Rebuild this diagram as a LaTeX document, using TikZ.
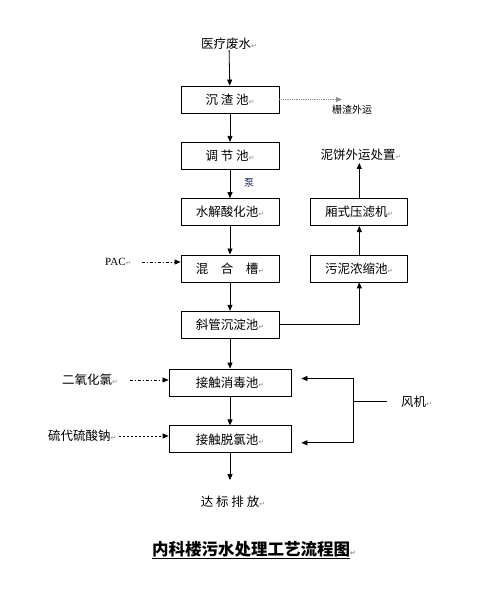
\documentclass[tikz,border=0pt]{standalone}
\usepackage{fontspec}
\setmainfont{Noto Sans CJK SC}
\newfontfamily\latinfont{Liberation Serif}
\newfontfamily\symfont{DejaVu Sans}
\usetikzlibrary{arrows.meta, positioning}
\definecolor{MarkGray}{RGB}{140,140,140}
\definecolor{PumpBlue}{RGB}{30,40,90}
\newcommand{\retmark}{{\symfont\color{MarkGray}\fontsize{7}{8}\selectfont ↵}}

\begin{document}
\begin{tikzpicture}[
    x=1pt, y=-1pt,
    node distance=28.5pt and 31pt,
    every node/.style={font=\fontsize{12.5}{14}\selectfont, inner sep=0pt},
    tank/.style={rectangle, draw, line width=0.8pt, minimum width=98pt, minimum height=27pt},
    widetank/.style={tank, minimum width=122pt},
    sidetank/.style={tank, minimum width=97pt},
    note/.style={font=\fontsize{10}{12}\selectfont},
    flow/.style={-{Triangle[length=6pt, width=5pt]}, line width=0.8pt},
    dotflow/.style={flow, densely dotted, draw=MarkGray},
    dashdotflow/.style={flow, dash pattern=on 3pt off 2pt on 1pt off 2pt},
    dashflow/.style={flow, dash pattern=on 2pt off 2pt}
  ]
    \useasboundingbox (0,0) rectangle (503,595);

    % Main line
    \node (src) at (229,44) {医疗废水\retmark};
    \node[tank] (czc) at (230,99.5) {沉\ 渣\ 池\retmark};
    \node[tank, below=of czc] (tjc) {调\ 节\ 池\retmark};
    \node[tank, below=of tjc] (sjc) {水解酸化池\retmark};
    \node[tank, below=of sjc] (hhc) {混\quad 合\quad 槽\retmark};
    \node[tank, below=of hhc] (xgc) {斜管沉淀池\retmark};
    \node[widetank, below=30pt of xgc] (xdc) {接触消毒池\retmark};
    \node[widetank, below=29pt of xdc] (tlc) {接触脱氯池\retmark};
    \node (out) at (233,502) {达\ 标\ 排\ 放\retmark};

    % Sludge line
    \node[sidetank, right=31pt of hhc] (nsc) {污泥浓缩池\retmark};
    \node[sidetank, above=of nsc] (ylj) {厢式压滤机\retmark};
    \node (nb) at (361,155) {泥饼外运处置\retmark};

    % Side labels
    \node[note, anchor=west] (zha) at (332,110) {栅渣外运};
    \coordinate (zhaend) at (342,99.5);
    \node[note, text=PumpBlue] (pump) at (249,183) {泵};
    \node[font=\latinfont\fontsize{11}{12}\selectfont, anchor=west] (pac) at (105,262) {PAC\retmark};
    \node[anchor=west] (clo) at (62,380) {二氧化氯\retmark};
    \node[anchor=west] (nas) at (48,436) {硫代硫酸钠\retmark};
    \node[anchor=west] (fan) at (401,401.5) {风机\retmark};
    \coordinate (fjb) at (353,401.5);

    % Connections
    \draw[flow] (src) -- (czc);
    \draw[flow] (czc) -- (tjc);
    \draw[flow] (tjc) -- (sjc);
    \draw[flow] (sjc) -- (hhc);
    \draw[flow] (hhc) -- (xgc);
    \draw[flow] (xgc.south) -- (xgc.south |- xdc.north);
    \draw[flow] (xdc) -- (tlc);
    \draw[flow, shorten >=16pt] (tlc.south) -- (tlc.south |- out.north);
    \draw[dotflow] (czc.east) -- (zhaend);
    \draw[flow] (xgc.east) -| (nsc.south);
    \draw[flow] (nsc) -- (ylj);
    \draw[flow, shorten >=2pt] (ylj.north) -- (ylj.north |- nb.south);
    \draw[dashdotflow, shorten <=10pt] (pac.east) -- (pac.east -| hhc.west);
    \draw[dashdotflow, shorten <=12pt] (clo.east) -- (clo.east -| xdc.west);
    \draw[dashflow, shorten <=2pt] (nas.east) -- (nas.east -| tlc.west);
    \draw[line width=0.8pt, shorten <=14pt] (fan.west) -- (fjb);
    \draw[flow, shorten >=10pt] (fjb) |- ([yshift=4pt]xdc.east);
    \draw[flow, shorten >=10pt] (fjb) |- ([yshift=-3.5pt]tlc.east);

    % Title
    \node[font=\fontsize{16.5}{18}\selectfont\bfseries] (title) at (254,550) {\underline{内科楼污水处理工艺流程图}\retmark};
  \end{tikzpicture}
\end{document}
